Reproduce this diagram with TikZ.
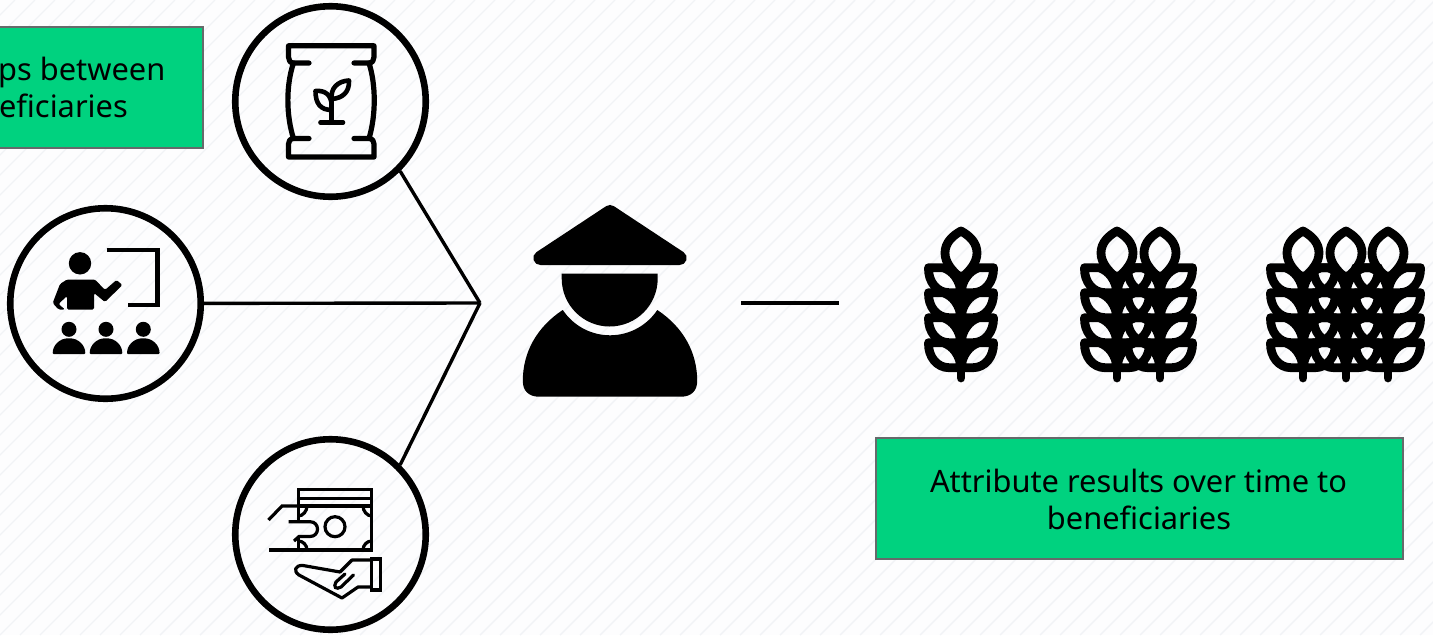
\documentclass[tikz,border=0pt]{standalone}
\usepackage{fontspec}
\setmainfont{Noto Sans}
\definecolor{boxgreen}{HTML}{00D27F}
\definecolor{boxline}{HTML}{666A6B}
\definecolor{stripe}{HTML}{F1F3F6}
\definecolor{paper}{HTML}{FDFDFE}
\tikzset{
  greenbox/.style={fill=boxgreen,draw=boxline,line width=2pt},
  ringnode/.style={circle,draw=black,line width=6.6pt,minimum size=190.5pt,inner sep=0pt,fill=none},
  connector/.style={draw=black,line width=3.4pt},
  label/.style={font=\fontsize{30.8}{38}\selectfont,text=black,inner sep=0pt},
  icon/.style={draw=black,line width=5.2pt,line cap=round,line join=round},
  thinicon/.style={draw=black,line width=3.2pt,line cap=butt,line join=miter},
  wheat/.pic={
    \draw[line width=8.8pt,line cap=round,line join=round]
      (0,50) .. controls (-8,44) and (-16,35) .. (-16,25)
      .. controls (-16,15) and (-9,8) .. (0,3)
      .. controls (9,8) and (16,15) .. (16,25)
      .. controls (16,35) and (8,44) .. (0,50);
    \foreach \r in {39.7,64.7,89.7,114.7}{
      \draw[line width=8.8pt,line cap=round,line join=round]
        (-32.5,\r) -- (-18,\r) .. controls (-8,\r+3) and (-1,\r+13) .. (0,\r+25)
        -- (-12,\r+25) .. controls (-24,\r+25) and (-33,\r+14) .. (-32.5,\r);
      \draw[line width=8.8pt,line cap=round,line join=round]
        (32.5,\r) -- (18,\r) .. controls (8,\r+3) and (1,\r+13) .. (0,\r+25)
        -- (12,\r+25) .. controls (24,\r+25) and (33,\r+14) .. (32.5,\r);
    }
    \draw[line width=8.8pt,line cap=round] (0,48) -- (0,150);
  }
}
\begin{document}
\begin{tikzpicture}[x=1pt,y=-1pt]
\useasboundingbox (0,0) rectangle (1433,635);
\clip (0,0) rectangle (1433,635);
\fill[paper] (0,0) rectangle (1433,635);
\foreach \k in {0,...,105}{
  \draw[stripe,line width=1.4pt] ({\k*20-5},0) -- ({\k*20-5-635},635);
}

% boxes
\fill[greenbox] (-10,26.5) rectangle (202.5,148);
\node[label,anchor=base east] (leftone) at (165.5,80) {ps between};
\node[label,anchor=base east] (lefttwo) at (128,117.5) {eficiaries};
\node[greenbox,minimum width=527pt,minimum height=120.5pt,inner sep=0pt] (rightbox) at (1139,498.5) {};
\node[label,anchor=base] (rightone) at (1138.5,492) {Attribute results over time to};
\node[label,anchor=base] (righttwo) at (1139,529.5) {beneficiaries};

% rings and connectors
\node[ringnode] (seedring) at (330.5,101.5) {};
\node[ringnode] (teachring) at (105.5,303.5) {};
\node[ringnode] (cashring) at (330.5,534.5) {};
\coordinate (hub) at (480,303);
\coordinate (lineA) at (741,303);
\coordinate (lineB) at (839,303);
\draw[connector] (seedring.-45) -- (hub);
\draw[connector] (teachring) -- (hub);
\draw[connector] (cashring.45) -- (hub);
\draw[connector] (lineA) -- (lineB);

% seed bag
\draw[icon] (309,63) -- (293.5,63) .. controls (290,63) and (288.5,60) .. (288.5,57) -- (288.5,45.8) -- (374,45.8) -- (374,57)
  .. controls (374,60) and (372.5,63) .. (369,63) -- (354,63);
\draw[icon] (309,138.5) -- (293.5,138.5) .. controls (290,138.5) and (288.5,141.5) .. (288.5,144) -- (288.5,157) -- (374,157) -- (374,144)
  .. controls (374,141.5) and (372.5,138.5) .. (369,138.5) -- (354,138.5);
\draw[icon] (293.5,63) .. controls (286,85) and (286,115) .. (293.5,138.5);
\draw[icon] (369,63) .. controls (376,85) and (376,115) .. (369,138.5);
\draw[icon,line width=4.6pt] (331.7,97) -- (331.7,122.5) (320.5,122.5) -- (343,122.5);
\draw[icon,line width=4.6pt] (331.7,110) .. controls (320,110) and (315.5,103) .. (315.5,91) .. controls (325,90) and (331.7,95) .. (331.7,106);
\draw[icon,line width=4.6pt] (331.7,100) .. controls (330,88) and (338,81) .. (349,80.5) .. controls (349.5,92) and (343,98) .. (332,99);

% teacher
\fill (80,263.3) circle[radius=11.2];
\fill[rounded corners=1.5pt] (67,279.5) -- (95,279.5) -- (105,290) -- (116.5,280) -- (122.5,285) -- (105,302) -- (94,293) -- (94,309.5) -- (67,309.5) -- (67,296) -- (58.5,304) -- (65,309.5) -- (58.5,309.5) -- (52.7,303) -- (60,284) -- cycle;
\draw[line width=4.4pt] (106.7,250) -- (157.3,250) -- (157.3,305) -- (128.3,305);
\foreach \cx in {69,106,143.3}{
  \fill (\cx,329.3) circle[radius=7.5];
  \fill[rounded corners=1pt] (\cx-16.3,354) .. controls (\cx-16.3,345) and (\cx-9,338.3) .. (\cx,338.3) .. controls (\cx+9,338.3) and (\cx+16.3,345) .. (\cx+16.3,354) -- cycle;
}

% money
\draw[thinicon] (298.3,521.7) -- (298.3,489.5) -- (371.7,489.5) -- (371.7,550) -- (298.3,550) -- (298.3,538);
\draw[thinicon] (298.3,498.5) -- (371.7,498.5) (298.3,506) -- (371.7,506);
\draw[thinicon] (335,526.7) circle[radius=10];
\draw[thinicon] (298.3,516) .. controls (303,516) and (307,511) .. (307,506);
\draw[thinicon] (371.7,516) .. controls (367,516) and (363,511) .. (363,506);
\draw[thinicon] (298.3,541) .. controls (303,541) and (307,545) .. (307,550);
\draw[thinicon] (371.7,541) .. controls (367,541) and (363,545) .. (363,550);
\draw[thinicon] (268.5,520) -- (282,506) -- (298.3,506);
\draw[thinicon] (288.5,521.7) -- (310,521.7) .. controls (320,521.7) and (320,536.5) .. (310,536.5) -- (299,536.5) -- (294,541);
\draw[thinicon] (269,550) -- (298.3,550);
\draw[thinicon,line join=round] (371.7,560) -- (352,560) -- (340,572) -- (303,565.5) .. controls (295,565) and (293,571) .. (299,575) -- (342,598) -- (358,587) -- (371.7,587);
\draw[thinicon] (371.7,559) rectangle (380.5,590);
\draw[thinicon,line cap=round] (353.5,575) -- (341,587) .. controls (336,590) and (333,587) .. (336,582) -- (345,574);

% farmer
\filldraw[line width=14pt,line join=round] (540.3,258) -- (610,212) -- (679.7,258) -- cycle;
\fill (561.7,273.7) -- (657.7,273.7) -- (657.7,278.5) arc[start angle=0,end angle=180,radius=48] -- cycle;
\fill (562.7,310) .. controls (537,327) and (522.8,352) .. (522.8,381)
  .. controls (522.8,391) and (529,396.7) .. (539,396.7) -- (681,396.7)
  .. controls (691,396.7) and (697.2,391) .. (697.2,381)
  .. controls (697.2,352) and (683,327) .. (657.3,310)
  arc[start angle=33.7,end angle=146.3,radius=56.8] -- cycle;

% wheat
\pic at (961,228) {wheat};
\pic at (1117,228) {wheat};
\pic at (1160,228) {wheat};
\pic at (1303,228) {wheat};
\pic at (1346,228) {wheat};
\pic at (1388,228) {wheat};
\end{tikzpicture}
\end{document}
